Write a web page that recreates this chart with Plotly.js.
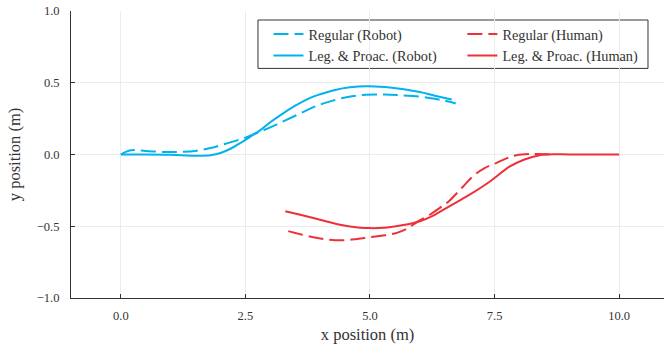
<!DOCTYPE html>
<html>
<head>
<meta charset="utf-8">
<script src="https://cdn.plot.ly/plotly-3.0.1.min.js"></script>
<style>html,body{margin:0;padding:0;background:#fff;}#chart{width:664px;height:344px;}</style>
</head>
<body>
<div id="chart"></div>
<script>
// Regular (Robot)
const regRobotX = [0, 0.2, 0.5, 0.9, 1.2, 1.5, 1.8, 2.1, 2.5, 2.8, 3.1, 3.5, 3.8, 4.1, 4.5, 4.9, 5.3, 5.6, 6.0, 6.3, 6.5, 6.72];
const regRobotY = [0, 0.03, 0.025, 0.017, 0.018, 0.025, 0.045, 0.075, 0.118, 0.16, 0.205, 0.27, 0.32, 0.36, 0.397, 0.416, 0.418, 0.413, 0.403, 0.388, 0.375, 0.355];
// Leg. & Proac. (Robot)
const legRobotX = [0, 0.5, 1.0, 1.5, 1.8, 2.0, 2.2, 2.4, 2.6, 2.8, 3.0, 3.25, 3.5, 3.8, 4.0, 4.3, 4.6, 4.93, 5.3, 5.6, 6.0, 6.3, 6.64];
const legRobotY = [0, 0, -0.002, -0.008, -0.005, 0.01, 0.04, 0.08, 0.125, 0.17, 0.225, 0.285, 0.34, 0.395, 0.42, 0.45, 0.468, 0.476, 0.47, 0.458, 0.435, 0.41, 0.383];
// Regular (Human)
const regHumanX = [3.36, 3.6, 3.86, 4.1, 4.4, 4.7, 5.0, 5.3, 5.54, 5.75, 5.95, 6.2, 6.45, 6.6, 6.85, 7.07, 7.3, 7.54, 7.75, 7.94, 8.27, 8.6];
const regHumanY = [-0.534, -0.556, -0.576, -0.59, -0.598, -0.59, -0.576, -0.563, -0.546, -0.515, -0.47, -0.42, -0.36, -0.32, -0.23, -0.15, -0.095, -0.058, -0.025, -0.005, 0.004, 0.002];
// Leg. & Proac. (Human)
const legHumanX = [3.3, 3.6, 4.0, 4.4, 4.8, 5.0, 5.3, 5.7, 6.0, 6.3, 6.6, 7.0, 7.4, 7.8, 8.1, 8.4, 8.7, 9.0, 10.0];
const legHumanY = [-0.395, -0.42, -0.455, -0.49, -0.51, -0.513, -0.51, -0.49, -0.465, -0.42, -0.36, -0.28, -0.19, -0.085, -0.035, -0.005, 0.002, 0.0, 0.0];

const tickVals = [0, 2.5, 5, 7.5, 10];
const tickText = ["0.0", "2.5", "5.0", "7.5", "10.0"];
const yTickVals = [-1, -0.5, 0, 0.5, 1];
const yTickText = ["\u22121.0", "\u22120.5", "0.0", "0.5", "1.0"];

const BLUE = "#00b2ee";
const RED = "#ee3038";
const DASH = "15px,6px";

const traces = [
  {x: regRobotX, y: regRobotY, name: "Regular (Robot)", legend: "legend", mode: "lines", line: {color: BLUE, width: 2, dash: DASH, shape: "spline"}},
  {x: legRobotX, y: legRobotY, name: "Leg. & Proac. (Robot)", legend: "legend", mode: "lines", line: {color: BLUE, width: 2, shape: "spline"}},
  {x: regHumanX, y: regHumanY, name: "Regular (Human)", legend: "legend2", mode: "lines", line: {color: RED, width: 2, dash: DASH, shape: "spline"}},
  {x: legHumanX, y: legHumanY, name: "Leg. & Proac. (Human)", legend: "legend2", mode: "lines", line: {color: RED, width: 2, shape: "spline"}}
];

const FONT = "Liberation Serif, DejaVu Serif, serif";
const legendCommon = {
  orientation: "v", xanchor: "left", yanchor: "top", xref: "paper", yref: "paper",
  bgcolor: "rgba(0,0,0,0)", borderwidth: 0,
  font: {family: FONT, size: 14.3, color: "#333"},
  tracegroupgap: 0, traceorder: "normal"
};

const layout = {
  width: 664, height: 344,
  margin: {l: 71, r: 0, t: 11, b: 46, pad: 0},
  paper_bgcolor: "#fff", plot_bgcolor: "#fff",
  font: {family: FONT, color: "#333", size: 12},
  showlegend: true,
  legend: Object.assign({}, legendCommon, {x: 0.333, y: 0.975}),
  legend2: Object.assign({}, legendCommon, {x: 0.660, y: 0.975}),
  shapes: [{
    type: "rect", xref: "paper", yref: "paper", layer: "below",
    x0: 0.3153, x1: 0.973, y0: 0.800, y1: 0.9686,
    line: {color: "#333", width: 1}, fillcolor: "#fff"
  }],
  xaxis: {
    range: [-1, 10.9], tickvals: tickVals, ticktext: tickText,
    showgrid: true, gridcolor: "#ececec", gridwidth: 1,
    zeroline: false, showline: true, linecolor: "#333", linewidth: 1, mirror: false,
    ticks: "inside", ticklen: 4, tickcolor: "#333",
    ticklabelstandoff: 6,
    tickfont: {family: FONT, size: 12.5, color: "#333"},
    title: {text: "x position (m)", font: {family: FONT, size: 16.5, color: "#333"}, standoff: 6}
  },
  yaxis: {
    range: [-1, 1], tickvals: yTickVals, ticktext: yTickText,
    showgrid: true, gridcolor: "#ececec", gridwidth: 1,
    zeroline: false, showline: true, linecolor: "#333", linewidth: 1, mirror: false,
    ticks: "inside", ticklen: 4, tickcolor: "#333",
    ticklabelstandoff: 8,
    tickfont: {family: FONT, size: 12.5, color: "#333"},
    title: {text: "y position (m)", font: {family: FONT, size: 16.5, color: "#333"}, standoff: 12}
  }
};

Plotly.newPlot("chart", traces, layout, {staticPlot: true, displayModeBar: false});
</script>
</body>
</html>
